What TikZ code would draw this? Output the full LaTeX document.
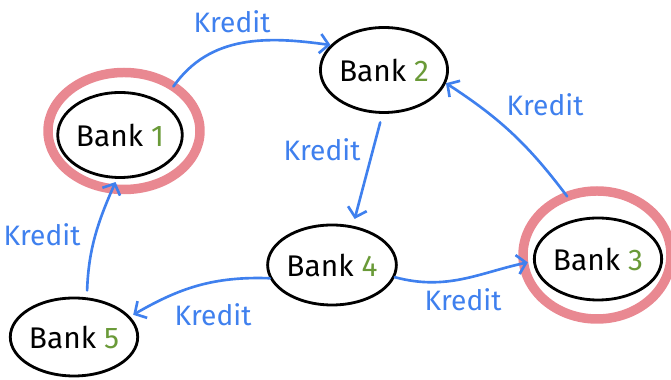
\documentclass[tikz,border=0pt]{standalone}
\usepackage{fontspec}
\setmainfont{Fira Sans}
\usetikzlibrary{arrows.meta,shapes.geometric}
\definecolor{kreditblue}{HTML}{3F80EE}
\definecolor{banknr}{HTML}{6A9A38}
\definecolor{risk}{HTML}{E5737E}
\newcommand{\banknum}[1]{\textcolor{banknr}{#1}}
\tikzset{
  bank/.style={
    ellipse, draw=black, line width=1.6pt, fill=white,
    inner sep=0pt, font=\fontsize{17}{19}\selectfont
  },
  riskring/.style={
    ellipse, draw=risk, line width=5.4pt, opacity=0.85,
    inner sep=0pt, outer sep=0pt
  },
  kredit/.style={
    -{Straight Barb[length=5pt,width=11pt]}, line width=1.5pt,
    color=kreditblue, line cap=round
  },
  kreditlabel/.style={
    font=\fontsize{16}{18}\selectfont, color=kreditblue
  },
}

\begin{document}
\begin{tikzpicture}
  \useasboundingbox (0,0) rectangle (13.42,7.60);

  % Rings
  \node[riskring, minimum width=3.04cm, minimum height=2.34cm] (ring1) at (2.48,4.98) {};
  \node[riskring, minimum width=2.96cm, minimum height=2.56cm] (ring3) at (11.94,2.50) {};

  % Banks
  \node[bank, minimum width=2.30cm, minimum height=1.70cm] (bank1) at (2.40,4.90) {Bank \banknum{1}};
  \node[bank, minimum width=2.30cm, minimum height=1.70cm] (bank2) at (7.68,6.20) {Bank \banknum{2}};
  \node[bank, minimum width=2.54cm, minimum height=1.64cm] (bank3) at (11.96,2.42) {Bank \banknum{3}};
  \node[bank, minimum width=2.40cm, minimum height=1.60cm] (bank4) at (6.64,2.30) {Bank \banknum{4}};
  \node[bank, minimum width=2.36cm, minimum height=1.56cm] (bank5) at (1.48,0.86) {Bank \banknum{5}};

  % Credits
  \draw[kredit] (ring1.42) to[out=55,in=172] (bank2.155);
  \draw[kredit, shorten <=5pt, shorten >=4pt] (bank2.268) -- (bank4.62);
  \draw[kredit, bend right=10] (ring3.117) to (bank2.-12);
  \draw[kredit, shorten >=3pt] (bank4.-11) to[out=-15,in=192] (bank3.182);
  \draw[kredit, shorten >=2pt] (bank4.192) to[out=178,in=30] (bank5.20);
  \draw[kredit, shorten <=4pt, shorten >=2pt] (bank5.72) to[out=88,in=-114] (bank1.266);

  % Labels
  \node[kreditlabel] (k12) at (4.64,7.16) {Kredit};
  \node[kreditlabel] (k24) at (6.44,4.60) {Kredit};
  \node[kreditlabel] (k32) at (10.90,5.50) {Kredit};
  \node[kreditlabel] (k43) at (9.26,1.60) {Kredit};
  \node[kreditlabel] (k45) at (4.26,1.30) {Kredit};
  \node[kreditlabel] (k51) at (0.84,2.90) {Kredit};
\end{tikzpicture}
\end{document}
